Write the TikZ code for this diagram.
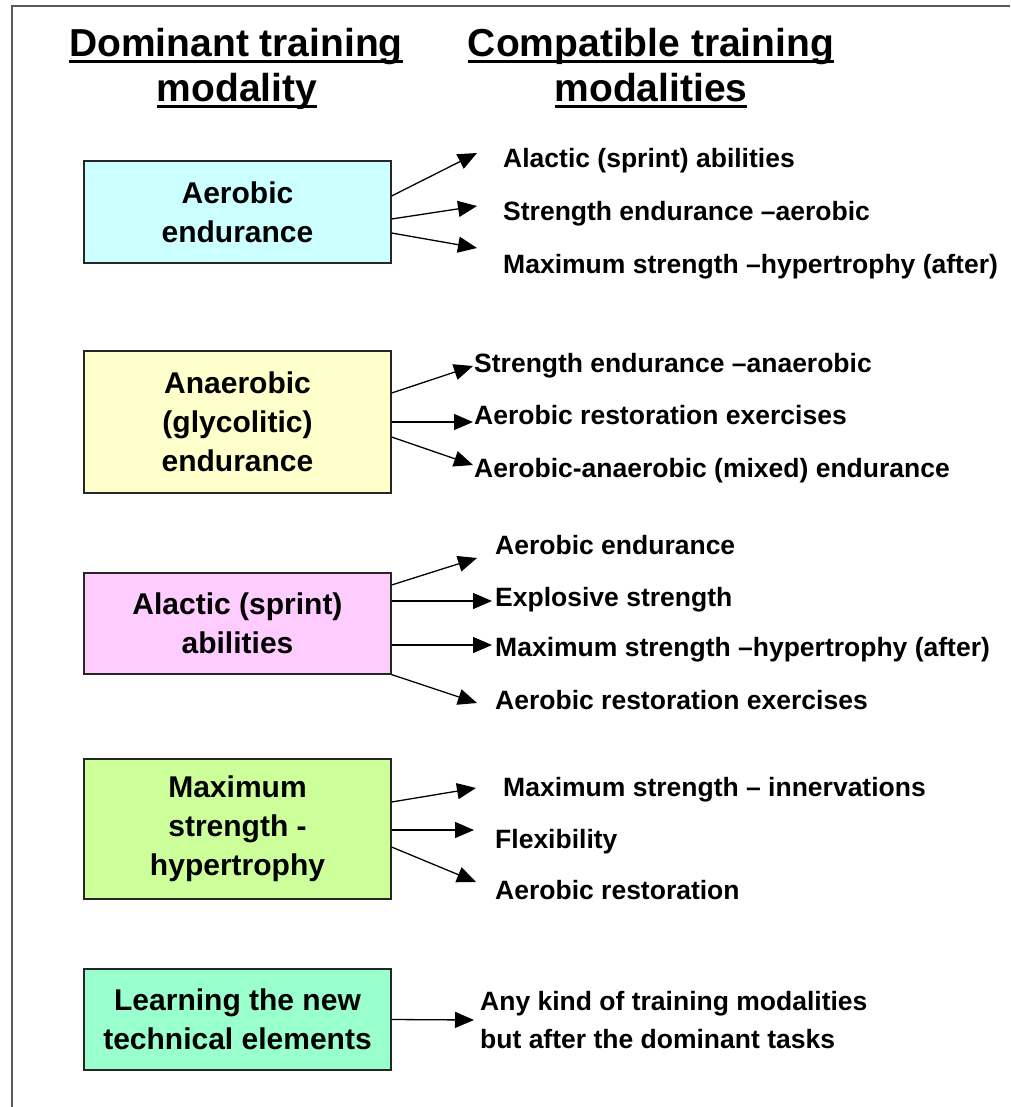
\documentclass[tikz,border=0pt]{standalone}
\usepackage{fontspec}
\setmainfont{Liberation Sans}
\usetikzlibrary{arrows.meta}
\definecolor{lightcyan}{HTML}{CCFFFF}
\definecolor{lightyellow}{HTML}{FFFFCC}
\definecolor{lightpink}{HTML}{FFCCFF}
\definecolor{lightgreen}{HTML}{CCFF99}
\definecolor{lightaqua}{HTML}{99FFCC}
\newcommand\ulin[1]{\setbox0\hbox{#1}\rlap{\rule[-6pt]{\wd0}{3pt}}\box0}

\begin{document}
\begin{tikzpicture}[x=1pt, y=-1pt,
   box/.style={draw=black!85, line width=1.2pt, minimum width=307pt, inner sep=0pt, align=center, font=\bfseries\fontsize{30}{39}\selectfont},
   item/.style={anchor=base west, inner sep=0pt, font=\bfseries\fontsize{26.5}{38}\selectfont},
   head/.style={anchor=base, inner sep=0pt, font=\bfseries\fontsize{39}{45}\selectfont},
   arr/.style={-{Triangle[length=19pt,width=16pt]}, line width=1.3pt}]
   \useasboundingbox[fill=white] (0,0) rectangle (1010,1107);
   \draw[black!65, line width=2pt] (12,1107) -- (12,6) -- (1010,6);

   % headings
   \node[head] (hdoma) at (236,57) {\ulin{Dominant training}};
   \node[head] (hdomb) at (237,102) {\ulin{modality}};
   \node[head] (hcompa) at (651,57) {\ulin{Compatible training}};
   \node[head] (hcompb) at (651,102) {\ulin{modalities}};

   % dominant modalities
   \node[box, fill=lightcyan, minimum height=102pt] (aerobic) at (237.5,212) {Aerobic\\endurance};
   \node[box, fill=lightyellow, minimum height=142pt] (anaerobic) at (237.5,422) {Anaerobic\\(glycolitic)\\endurance};
   \node[box, fill=lightpink, minimum height=101pt] (alactic) at (237.5,623.5) {Alactic (sprint)\\abilities};
   \node[box, fill=lightgreen, minimum height=140pt] (maxstr) at (237.5,829) {Maximum\\strength -\\hypertrophy};
   \node[box, fill=lightaqua, minimum height=101pt] (learning) at (237.5,1019.5) {Learning the new\\technical elements};

   % compatible modalities
   \node[item] (aer1) at (503,168) {Alactic (sprint) abilities};
   \node[item] (aer2) at (503,221) {Strength endurance --aerobic};
   \node[item] (aer3) at (503,273) {Maximum strength --hypertrophy (after)};
   \node[item] (ana1) at (474,372) {Strength endurance --anaerobic};
   \node[item] (ana2) at (474,424) {Aerobic restoration exercises};
   \node[item] (ana3) at (474,477) {Aerobic-anaerobic (mixed) endurance};
   \node[item] (ala1) at (495,554) {Aerobic endurance};
   \node[item] (ala2) at (495,606) {Explosive strength};
   \node[item] (ala3) at (495,656) {Maximum strength --hypertrophy (after)};
   \node[item] (ala4) at (495,709) {Aerobic restoration exercises};
   \node[item] (max1) at (503,796) {Maximum strength -- innervations};
   \node[item] (max2) at (495,848) {Flexibility};
   \node[item] (max3) at (495,899) {Aerobic restoration};
   \node[item] (lrn1) at (480,1010) {Any kind of training modalities};
   \node[item] (lrn2) at (480,1048) {but after the dominant tasks};

   \path[arr]
     ([yshift=16pt]aerobic.east) edge ([shift={(-26pt,15pt)}]aer1.base west)
     ([yshift=-7pt]aerobic.east) edge ([shift={(-26pt,15pt)}]aer2.base west)
     ([yshift=-21pt]aerobic.east) edge ([shift={(-26pt,25pt)}]aer3.base west)
     ([yshift=29pt]anaerobic.east) edge ([shift={(-1pt,6pt)}]ana1.base west)
     (anaerobic.east) edge ([shift={(-1pt,2pt)}]ana2.base west)
     ([yshift=-15pt]anaerobic.east) edge ([shift={(-1pt,12pt)}]ana3.base west)
     ([yshift=38.5pt]alactic.east) edge ([shift={(-18pt,-4pt)}]ala1.base west)
     ([yshift=22.5pt]alactic.east) edge ([shift={(-3pt,5pt)}]ala2.base west)
     ([yshift=-21.5pt]alactic.east) edge ([shift={(-3pt,11pt)}]ala3.base west)
     (alactic.south east) edge ([shift={(-18pt,6pt)}]ala4.base west)
     ([yshift=27pt]maxstr.east) edge ([shift={(-27pt,8pt)}]max1.base west)
     ([yshift=-1pt]maxstr.east) edge ([shift={(-21pt,18pt)}]max2.base west)
     ([yshift=-18pt]maxstr.east) edge ([shift={(-19pt,17pt)}]max3.base west)
     (learning.east) edge ([shift={(-6pt,-10pt)}]lrn1.base west);
\end{tikzpicture}
\end{document}
